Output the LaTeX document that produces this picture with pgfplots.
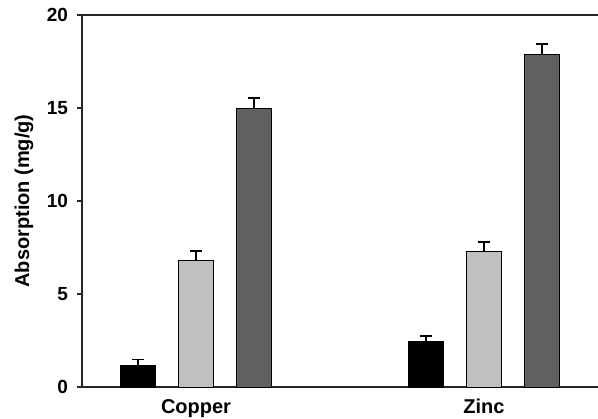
\documentclass[border=0pt]{standalone}
\usepackage{fontspec}
\setmainfont{Liberation Sans}
\usepackage{pgfplots}
\pgfplotsset{compat=1.18}
\definecolor{lgray}{RGB}{192,192,192}
\definecolor{dgray}{RGB}{96,96,96}
\begin{document}
\begin{tikzpicture}
\begin{axis}[
  name=ax,
  scale only axis,
  width=258pt, height=186pt,
  xmin=0.604, xmax=2.396,
  ymin=0, ymax=20,
  axis x line*=box, axis y line*=left,
  axis line style={line width=0.6pt, black!85},
  ytick={0,5,10,15,20},
  xtick={1,2}, xticklabels={Copper,Zinc},
  major x tick style={draw=none},
  tick align=outside,
  major tick length=2.5pt,
  tick style={line width=0.6pt, black!85},
  /pgf/number format/assume math mode=true,
  ticklabel style={font=\bfseries\fontsize{9.5}{11}\selectfont},
  yticklabel style={xshift=-1pt},
  xticklabel style={font=\bfseries\fontsize{10}{12}\selectfont, yshift=0pt},
  ylabel={Absorption (mg/g)},
  every axis y label/.style={at={(axis description cs:0,0.5)}, xshift=-29pt, rotate=90, anchor=center, font=\bfseries\fontsize{10}{12}\selectfont},
  ybar, bar width=0.1215, bar shift=0pt,
  every axis plot/.append style={draw=black, line width=0.5pt,
    error bars/error bar style={line width=0.7pt, black},
    error bars/error mark options={rotate=90, mark size=3pt, line width=0.7pt, black}},
]
\addplot[fill=black, error bars/.cd, y dir=plus, y explicit] coordinates {
  (0.7986,1.17) +- (0,0.30)
  (1.7986,2.42) +- (0,0.32)
};
\addplot[fill=lgray, error bars/.cd, y dir=plus, y explicit] coordinates {
  (1,6.82) +- (0,0.50)
  (2,7.30) +- (0,0.50)
};
\addplot[fill=dgray, error bars/.cd, y dir=plus, y explicit] coordinates {
  (1.2014,15.00) +- (0,0.53)
  (2.2014,17.90) +- (0,0.55)
};
\end{axis}
\pgfresetboundingbox
\path ([shift={(-41pt,-15.65pt)}]ax.south west) rectangle ([shift={(0pt,7.5pt)}]ax.north east);
\end{tikzpicture}
\end{document}
